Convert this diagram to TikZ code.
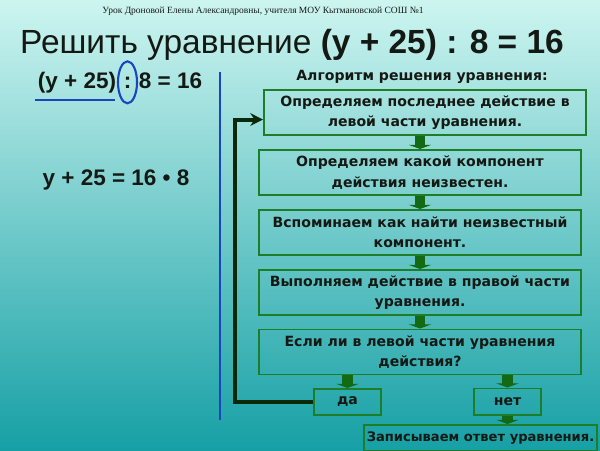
\documentclass[tikz,border=0pt]{standalone}
\usepackage{fontspec}
\setmainfont{Liberation Sans}
\newfontfamily\boxfont{DejaVu Sans}
\newfontfamily\headfont{Liberation Serif}
\usetikzlibrary{arrows.meta,positioning}
\definecolor{bgtop}{RGB}{205,245,240}
\definecolor{bgmid}{RGB}{115,208,202}
\definecolor{bgbot}{RGB}{22,160,165}
\definecolor{frame}{RGB}{30,125,40}
\definecolor{stemgreen}{RGB}{20,105,20}
\definecolor{loopc}{RGB}{10,40,10}
\definecolor{ink}{RGB}{20,25,20}
\definecolor{penblue}{RGB}{25,70,190}

\begin{document}
\begin{tikzpicture}[
    x=0.025cm, y=-0.025cm,
    box/.style={draw=frame, line width=1.4pt, minimum width=229pt, minimum height=32pt, inner sep=0pt, align=center, text=ink, font=\boxfont\bfseries\fontsize{10}{14.5}\selectfont},
    ans/.style={box, minimum width=47pt, minimum height=18.5pt},
    flow/.style={stemgreen, line width=7.5pt, -{Triangle[width=16pt 0, length=3pt 0]}},
    back/.style={loopc, line width=2.8pt, -{Stealth[length=9pt 0, width=9pt 0]}},
    eq/.style={inner sep=0pt, text=ink, font=\bfseries\fontsize{16}{19}\selectfont}
]
\useasboundingbox (0,0) rectangle (600,450);
\shade[top color=bgtop, middle color=bgmid, bottom color=bgbot] (0,0) rectangle (600,450);

% Header and title
\node[text=ink, font=\headfont\fontsize{6.75}{8}\selectfont] (head) at (263,11) {Урок Дроновой Елены Александровны, учителя МОУ Кытмановской СОШ №1};
\node[anchor=base, inner sep=0pt, text=ink, font=\fontsize{23.8}{28}\selectfont] (title) at (292,53) {Решить уравнение \textbf{(у + 25) : 8 = 16}};

% Left: the equation
\node[eq, anchor=base] (lhs) at (77,88) {(у + 25)};
\node[eq, anchor=base] (colon) at (127.5,88) {:};
\node[eq, anchor=base] (rhs) at (170.5,88) {8 = 16};
\draw[penblue, line width=1.5pt] (colon.center) ellipse [x radius=9.5, y radius=21];
\draw[penblue, line width=1.5pt] (35,100) -- (115,100);
\node[eq, anchor=base] (step) at (116,185) {у + 25 = 16 • 8};
\draw[penblue, line width=2pt] (220,72) -- (220,420);

% Algorithm
\node[text=ink, font=\boxfont\bfseries\fontsize{10}{12}\selectfont] (algo) at (422,77) {Алгоритм решения уравнения:};
\node[box] (b1) at (425,112.5) {Определяем последнее действие в\\левой части уравнения.};
\node[box] (b2) at (420,172.5) {Определяем какой компонент\\действия неизвестен.};
\node[box] (b3) at (420,232.5) {Вспоминаем как найти неизвестный\\компонент.};
\node[box] (b4) at (420,292.5) {Выполняем действие в правой части\\уравнения.};
\node[box] (b5) at (420,352) {Если ли в левой части уравнения\\действия?};
\node[ans] (yes) at (347.5,402) {да};
\node[ans] (no) at (507.5,401.5) {нет};
\node[ans, minimum width=166pt, font=\boxfont\bfseries\fontsize{9.3}{11}\selectfont] (final) at (480.5,438) {Записываем ответ уравнения.};

\draw[flow] (b2.north |- b1.south) -- (b2.north);
\draw[flow] (b2) -- (b3);
\draw[flow] (b3) -- (b4);
\draw[flow] (b4) -- (b5);
\draw[flow] (yes.north |- b5.south) -- (yes.north);
\draw[flow] (no.north |- b5.south) -- (no.north);
\draw[flow] (no) -- (no.south |- final.north);

% Loop back
\coordinate (turn) at (235,402);
\draw[back] (yes.west) -- (turn) |- ([yshift=-5pt]b1.west);
\end{tikzpicture}
\end{document}
